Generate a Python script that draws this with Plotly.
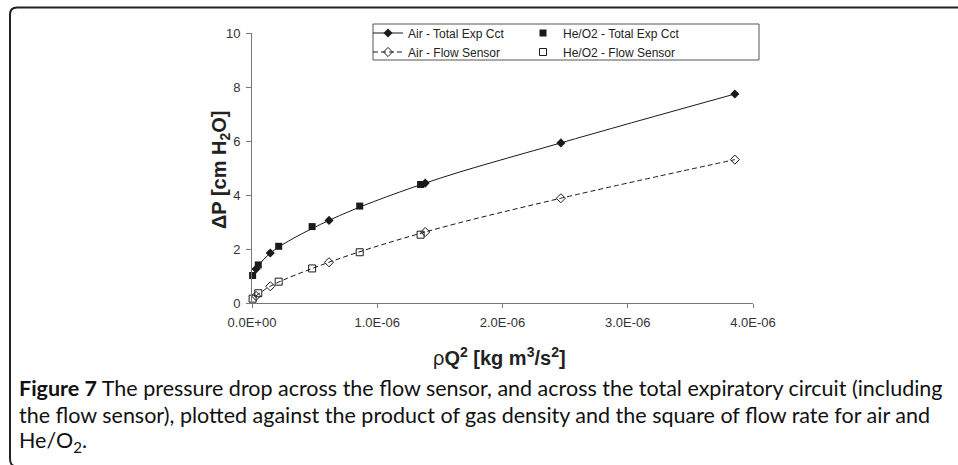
import plotly.graph_objects as go

# Product of gas density and squared flow rate, rho*Q^2 [kg m^3/s^2]
air_rhoq2 = [0.032e-6, 0.146e-6, 0.615e-6, 1.383e-6, 2.466e-6, 3.855e-6]
heo2_rhoq2 = [0.005e-6, 0.050e-6, 0.213e-6, 0.480e-6, 0.860e-6, 1.346e-6]

# Pressure drop [cm H2O]
air_total = [1.26, 1.85, 3.06, 4.44, 5.93, 7.74]
air_sensor = [0.26, 0.62, 1.51, 2.63, 3.88, 5.31]
heo2_total = [1.02, 1.41, 2.10, 2.83, 3.59, 4.39]
heo2_sensor = [0.16, 0.36, 0.79, 1.28, 1.88, 2.53]

x_ticks = [0, 1e-6, 2e-6, 3e-6, 4e-6]
x_tick_text = ["0.0E+00", "1.0E-06", "2.0E-06", "3.0E-06", "4.0E-06"]
y_ticks = [0, 2, 4, 6, 8, 10]

W, H = 958, 465
L, R, T, B = 252, 753, 33, 303  # plot area in pixels


def px(x):
    return (x - L) / (R - L)


def py(y):
    return (B - y) / (B - T)


AX_FONT = "Arial, Liberation Sans, sans-serif"
CAP_FONT = "Lato, Open Sans, sans-serif"
INK = "#1a1a1a"

fig = go.Figure()

fig.add_trace(go.Scatter(
    x=air_rhoq2, y=air_total, name="Air - Total Exp Cct",
    mode="lines+markers", line=dict(color=INK, width=1, shape="spline"),
    marker=dict(symbol="diamond", size=7, color=INK), legend="legend",
))
fig.add_trace(go.Scatter(
    x=air_rhoq2, y=air_sensor, name="Air - Flow Sensor",
    mode="lines+markers", line=dict(color=INK, width=1, shape="spline", dash="5px,3px"),
    marker=dict(symbol="diamond-open", size=7, color=INK, line=dict(width=1)),
    legend="legend",
))
fig.add_trace(go.Scatter(
    x=heo2_rhoq2, y=heo2_total, name="He/O2 - Total Exp Cct",
    mode="markers", marker=dict(symbol="square", size=7, color=INK),
    legend="legend2",
))
fig.add_trace(go.Scatter(
    x=heo2_rhoq2, y=heo2_sensor, name="He/O2 - Flow Sensor",
    mode="markers", marker=dict(symbol="square-open", size=7, color=INK, line=dict(width=1)),
    legend="legend2",
))

legend_common = dict(
    font=dict(family=AX_FONT, size=12, color="#222"),
    bgcolor="rgba(0,0,0,0)", borderwidth=0, itemwidth=30,
    xanchor="left", yanchor="top", tracegroupgap=0,
)

shapes = [
    # legend frame
    dict(type="rect", xref="paper", yref="paper",
         x0=px(373), x1=px(759), y0=py(60), y1=py(24),
         line=dict(color="#555", width=1)),
    # figure frame: top rule and left rule with rounded corners
    dict(type="path", xref="paper", yref="paper",
         path=(f"M {px(958)},{py(7.5)} L {px(17)},{py(7.5)} "
               f"Q {px(10)},{py(7.5)} {px(10)},{py(14.5)} "
               f"L {px(10)},{py(458)} Q {px(10)},{py(465)} {px(14)},{py(466)}"),
         line=dict(color="#222", width=2)),
]

annotations = [
    dict(text="<b>ΔP [cm H<sub>2</sub>O]</b>", textangle=-90,
         x=px(220), y=py(170), xref="paper", yref="paper",
         xanchor="center", yanchor="middle", showarrow=False,
         font=dict(family=AX_FONT, size=20, color="#222")),
    dict(text="ρ<b>Q<sup>2</sup> [kg m<sup>3</sup>/s<sup>2</sup>]</b>",
         x=px(499), y=py(356), xref="paper", yref="paper",
         xanchor="center", yanchor="middle", showarrow=False,
         font=dict(family=AX_FONT, size=20, color="#222")),
]

caption_lines = [
    "<b>Figure 7</b> The pressure drop across the flow sensor, and across the total expiratory circuit (including",
    "the flow sensor), plotted against the product of gas density and the square of flow rate for air and",
    "He/O<sub>2</sub>.",
]
for i, line in enumerate(caption_lines):
    annotations.append(dict(
        text=line, x=px(17), y=py(388 + 26.5 * i), xref="paper", yref="paper",
        xanchor="left", yanchor="middle", showarrow=False,
        font=dict(family=CAP_FONT, size=21.5, color="#111"),
    ))

fig.update_layout(
    width=W, height=H,
    margin=dict(l=L, r=W - R, t=T, b=H - B, pad=0),
    paper_bgcolor="white", plot_bgcolor="white",
    legend=dict(x=px(368), y=py(18.5), **legend_common),
    legend2=dict(x=px(523), y=py(18.5), **legend_common),
    shapes=shapes, annotations=annotations,
)

fig.update_xaxes(
    range=[0, 4e-6], tickvals=x_ticks, ticktext=x_tick_text,
    showline=True, linecolor="#777", linewidth=1,
    ticks="outside", ticklen=4, tickcolor="#777", ticklabelstandoff=3,
    showgrid=False, zeroline=False,
    tickfont=dict(family=AX_FONT, size=13, color="#333"),
)
fig.update_yaxes(
    range=[0, 10], tickvals=y_ticks,
    showline=True, linecolor="#777", linewidth=1,
    ticks="outside", ticklen=5, tickcolor="#777", ticklabelstandoff=3,
    showgrid=False, zeroline=False,
    tickfont=dict(family=AX_FONT, size=13, color="#333"),
)
fig.update_traces(cliponaxis=False)

fig.write_html("out.html")
